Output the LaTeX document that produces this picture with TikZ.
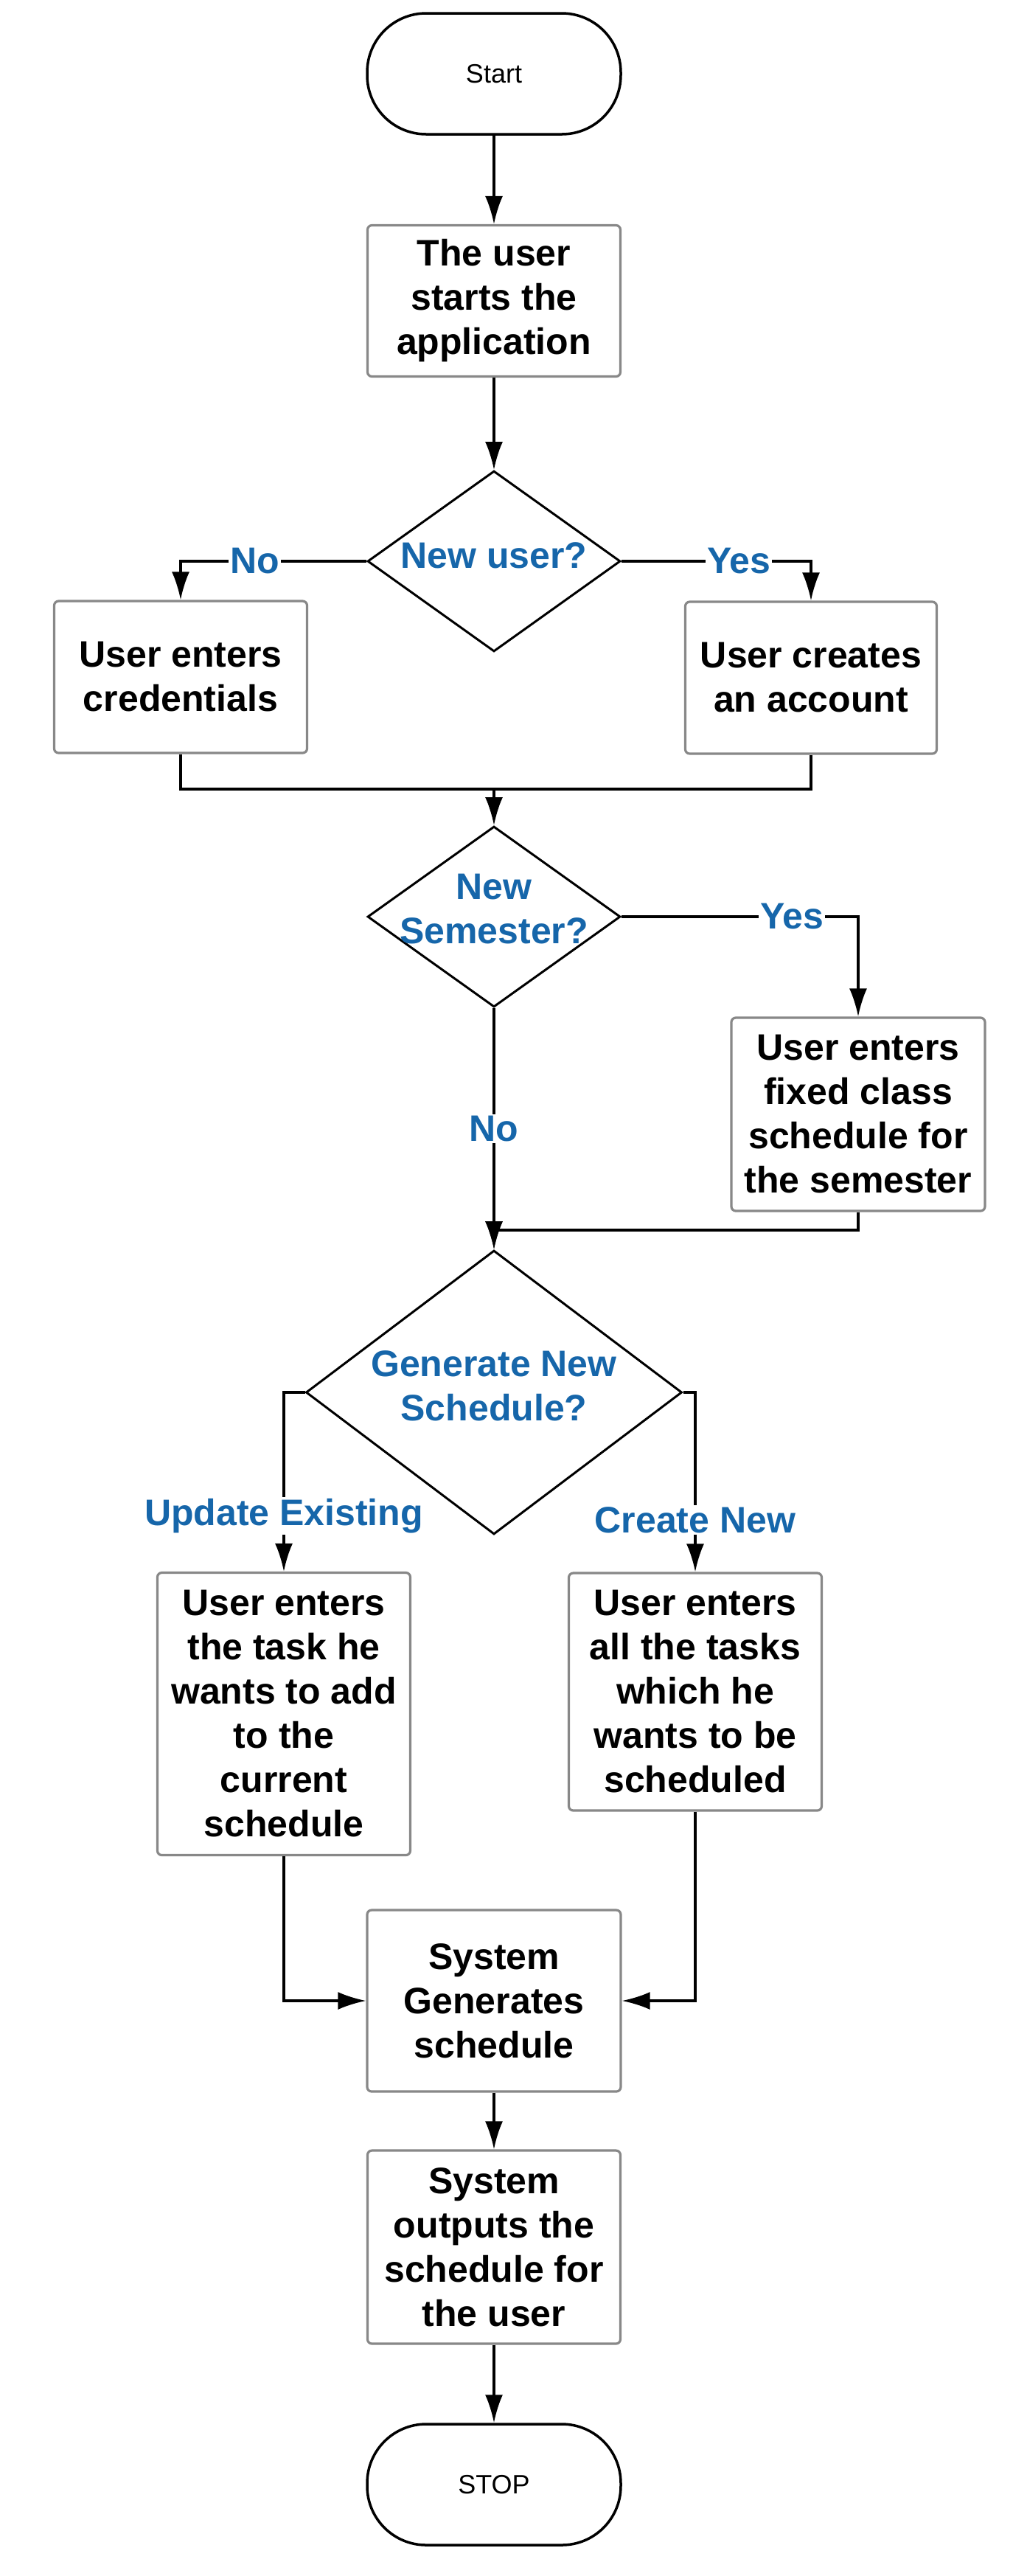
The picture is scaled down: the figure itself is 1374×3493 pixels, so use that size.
\documentclass[tikz,border=0pt]{standalone}
\usepackage{fontspec}
\setmainfont{Liberation Sans}
\usetikzlibrary{shapes.geometric,arrows.meta,calc}
\definecolor{lblue}{RGB}{22,102,170}
\definecolor{boxgray}{RGB}{136,136,136}
\begin{document}
\begin{tikzpicture}[x=0.5pt,y=-0.5pt,
  term/.style={draw=black,line width=1.75pt,rounded corners=40pt,minimum width=172pt,minimum height=82pt,font=\fontsize{18}{22}\selectfont},
  proc/.style={draw=boxgray,line width=1.6pt,rounded corners=3pt,align=center,inner sep=0pt,font=\bfseries\fontsize{25}{30}\selectfont},
  dia/.style={draw=black,diamond,line width=1.5pt,inner sep=0pt},
  qtext/.style={text=lblue,align=center,font=\bfseries\fontsize{25}{30}\selectfont},
  lbl/.style={text=lblue,fill=white,inner sep=1pt,font=\bfseries\fontsize{25}{30}\selectfont},
  con/.style={line width=1.6pt},
  arr/.style={con,-{Latex[length=19pt,width=12pt]}}]
\fill[white] (0,0) rectangle (1374,3493);
\useasboundingbox (0,0) rectangle (1374,3493);

\node[term] (start) at (670,100) {Start};
\node[proc,minimum width=171.5pt,minimum height=102.5pt] (b1) at (670,408) {The user\\starts the\\application};
\node[dia,minimum width=171.5pt,minimum height=122.5pt] (d1) at (670,761) {};
\node[qtext] (q1) at (670,753) {New user?};
\node[proc,minimum width=171.5pt,minimum height=103pt] (b2) at (245,918) {User enters\\credentials};
\node[proc,minimum width=170.5pt,minimum height=103pt] (b3) at (1100,919) {User creates\\an account};
\coordinate (m1) at (670,1070);
\node[dia,minimum width=171.5pt,minimum height=122.5pt] (d2) at (670,1243) {};
\node[qtext] (q2) at (670,1233) {New\\Semester?};
\node[proc,minimum width=172pt,minimum height=131pt] (b4) at (1164,1511) {User enters\\fixed class\\schedule for\\the semester};
\coordinate (m2) at (670,1668);
\node[dia,minimum width=255pt,minimum height=192.5pt] (d3) at (670,1888) {};
\node[qtext] (q3) at (670,1879) {Generate New\\Schedule?};
\node[proc,minimum width=171.5pt,minimum height=191.5pt] (b5) at (385,2324) {User enters\\the task he\\wants to add\\to the\\current\\schedule};
\node[proc,minimum width=171.5pt,minimum height=161pt] (b6) at (943,2294) {User enters\\all the tasks\\which he\\wants to be\\scheduled};
\node[proc,minimum width=172pt,minimum height=123pt] (b7) at (670,2713) {System\\Generates\\schedule};
\node[proc,minimum width=171.5pt,minimum height=131pt] (b8) at (670,3047) {System\\outputs the\\schedule for\\the user};
\node[term] (stop) at (670,3369) {STOP};

\draw[arr] (start) -- (b1);
\draw[arr] (b1) -- (d1);
\draw[arr] (d1.west) -| (b2.north) node[lbl,pos=0.3] {No};
\draw[arr] (d1.east) -| (b3.north) node[lbl,pos=0.31] {Yes};
\draw[con] (b2.south) |- (m1) -| (b3.south);
\draw[arr] (m1) -- (d2.north);
\draw[arr] (d2.east) -| (b4.north) node[lbl,pos=0.36] {Yes};
\draw[arr] (d2.south) -- (d3.north) node[lbl,midway] {No};
\draw[arr] (b4.south) |- (m2) -- (d3.north);
\draw[arr] (d3.west) -| (b5.north) node[lbl,pos=0.845] {Update Existing};
\draw[arr] (d3.east) -| (b6.north) node[lbl,pos=0.855] {Create New};
\draw[arr] (b5.south) |- (b7.west);
\draw[arr] (b6.south) |- (b7.east);
\draw[arr] (b7) -- (b8);
\draw[arr] (b8) -- (stop);
\end{tikzpicture}
\end{document}
